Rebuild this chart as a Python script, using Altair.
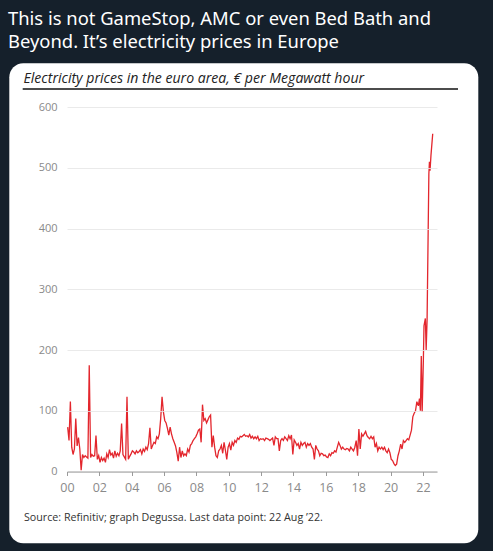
import altair as alt
import pandas as pd

# ---------------- data ----------------
monthly = {
    2000: [73, 51, 115, 40, 28, 37, 87, 42, 56, 37, 2, 28],
    2001: [23, 26, 24, 22, 175, 23, 28, 25, 26, 59, 20, 26],
    2002: [15, 23, 18, 22, 15, 29, 23, 36, 27, 30, 22, 34],
    2003: [25, 30, 26, 34, 79, 28, 24, 20, 123, 20, 25, 29],
    2004: [34, 32, 29, 34, 31, 33, 36, 29, 37, 33, 40, 36],
    2005: [46, 72, 37, 43, 48, 46, 57, 54, 62, 87, 123, 98],
    2006: [84, 80, 71, 60, 73, 62, 54, 48, 42, 31, 17, 40],
    2007: [23, 34, 26, 29, 26, 37, 32, 43, 46, 51, 54, 57],
    2008: [62, 68, 70, 48, 110, 84, 87, 80, 85, 90, 93, 40],
    2009: [59, 40, 26, 23, 34, 37, 43, 30, 48, 35, 20, 40],
    2010: [46, 35, 48, 43, 51, 48, 55, 53, 58, 57, 59, 61],
    2011: [58, 59, 57, 61, 55, 58, 54, 57, 54, 58, 51, 54],
    2012: [53, 54, 51, 55, 54, 53, 51, 53, 55, 43, 57, 54],
    2013: [54, 34, 51, 54, 51, 57, 54, 51, 59, 54, 60, 28],
    2014: [52, 48, 43, 46, 37, 48, 43, 46, 48, 40, 46, 43],
    2015: [46, 40, 37, 20, 43, 37, 34, 26, 30, 29, 26, 27],
    2016: [24, 23, 29, 26, 31, 30, 34, 32, 40, 48, 43, 37],
    2017: [40, 37, 36, 38, 37, 34, 40, 37, 34, 40, 51, 26],
    2018: [70, 37, 62, 58, 62, 66, 59, 56, 54, 58, 54, 57],
    2019: [40, 46, 34, 40, 37, 40, 36, 40, 34, 31, 37, 31],
    2020: [20, 18, 13, 10, 12, 26, 34, 45, 37, 51, 48, 51],
    2021: [54, 52, 60, 68, 90, 96, 100, 115],
}
tail_dates = ["2021-09-20", "2021-10-15", "2021-11-05", "2021-11-25", "2021-12-15",
              "2022-01-10", "2022-01-25", "2022-02-25", "2022-03-15", "2022-04-05",
              "2022-05-15", "2022-05-28", "2022-06-10", "2022-07-01", "2022-08-10"]
tail_values = [108, 120, 100, 190, 98, 180, 240, 252, 200, 250, 490, 510, 495, 520, 556]

x_tick_years = list(range(2000, 2023, 2))
y_ticks = [0, 100, 200, 300, 400, 500, 600]

tweet_line1 = "This is not GameStop, AMC or even Bed Bath and"
tweet_line2 = "Beyond. It\u2019s electricity prices in Europe"
subtitle = "Electricity prices in the euro area, \u20ac per Megawatt hour"
source = "Source: Refinitiv; graph Degussa. Last data point: 22 Aug \u201922."

# ---------------- table ----------------
rows = []
for yr, vals in monthly.items():
    for m, v in enumerate(vals):
        rows.append({"t": yr + (m + 0.5) / 12, "v": v})
for d, v in zip(tail_dates, tail_values):
    ts = pd.Timestamp(d)
    rows.append({"t": ts.year + (ts.dayofyear - 1) / 365.0, "v": v})
df = pd.DataFrame(rows)

one = pd.DataFrame({"k": [0]})

W, H = 370, 364.5

card = alt.Chart(one).mark_rect(color="white", cornerRadius=14).encode(
    x=alt.value(-57.7), x2=alt.value(411.3), y=alt.value(-43.7), y2=alt.value(436.3)
)

underline = alt.Chart(one).mark_rule(color="#111111", strokeWidth=1.5).encode(
    x=alt.value(-44.3), x2=alt.value(391), y=alt.value(-18)
)

def txt(s, x, y, size, color, font, style="normal"):
    return alt.Chart(one).mark_text(
        align="left", baseline="alphabetic", fontSize=size, color=color,
        font=font, fontStyle=style
    ).encode(x=alt.value(x), y=alt.value(y), text=alt.value(s))

t1 = txt(tweet_line1, -59, -82, 18.4, "#ffffff", "Noto Sans")
t2 = txt(tweet_line2, -59, -58.7, 18.4, "#ffffff", "Noto Sans")
t3 = txt(subtitle, -43.5, -23.7, 14.1, "#222222", "Open Sans", "italic")
t4 = txt(source, -43, 413.5, 10.7, "#333333", "Open Sans")

line = alt.Chart(df).mark_line(color="#e3262d", strokeWidth=1.3).encode(
    x=alt.X("t:Q",
            scale=alt.Scale(domain=[2000, 2022.87], nice=False, zero=False),
            axis=alt.Axis(values=x_tick_years, title=None, grid=False,
                          labelExpr="slice(toString(datum.value), 2)",
                          labelFlush=False,
                          domainColor="#9a9a9a", tickColor="#9a9a9a", tickSize=4,
                          labelColor="#8a8a8a", labelFontSize=12.5, labelPadding=6,
                          labelFont="Open Sans", zindex=1)),
    y=alt.Y("v:Q",
            scale=alt.Scale(domain=[0, 600], nice=False),
            axis=alt.Axis(values=y_ticks, title=None, grid=True, gridColor="#e4e4e4",
                          gridWidth=0.8, domain=False, ticks=False,
                          labelColor="#8a8a8a", labelFontSize=11, labelPadding=10,
                          labelFont="Open Sans", zindex=1)),
)

chart = alt.layer(card, underline, t1, t2, t3, t4, line).properties(
    width=W, height=H,
    background="#15202b",
    autosize=alt.AutoSizeParams(type="none"),
    padding={"left": 67, "top": 107, "right": 56, "bottom": 79.5},
).configure_view(stroke=None)

chart.save("out.html", embed_options={"renderer": "svg", "actions": False})
